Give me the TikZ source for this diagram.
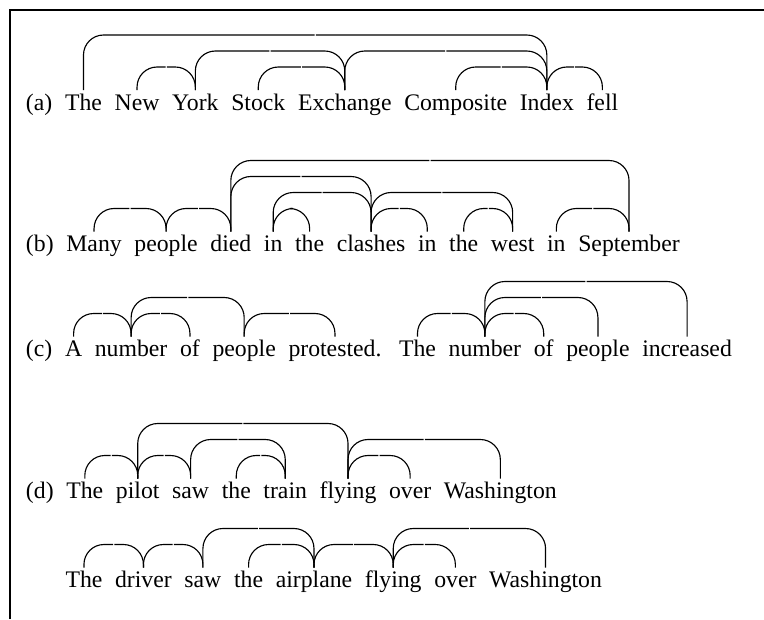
\documentclass[tikz,border=0pt]{standalone}
\usepackage{fontspec}
\setmainfont{Liberation Serif}
\usetikzlibrary{calc}
\tikzset{
  word/.style={inner sep=0pt, outer sep=0pt, anchor=base west, font=\fontsize{17.8pt}{20pt}\selectfont},
  deparcline/.style={line width=0.85pt, rounded corners=15pt},
  frameline/.style={line width=1.5pt},
}
\newcommand\wordgap{9.525pt}
\newcommand\deparc[3]{%
  \draw[deparcline] ([yshift=15pt]#1.base) -- ([yshift={20.25pt+#3*12pt}]#1.base)
     -- ([yshift={20.25pt+#3*12pt},xshift=-0.45pt]$(#1.base)!0.5!(#2.base)$);
  \draw[deparcline] ([yshift=15pt]#2.base) -- ([yshift={20.25pt+#3*12pt}]#2.base)
     -- ([yshift={20.25pt+#3*12pt},xshift=0.45pt]$(#1.base)!0.5!(#2.base)$);
}
\begin{document}
\begin{tikzpicture}[x=0.75pt,y=-0.75pt]
\useasboundingbox (0,0) rectangle (764,619);
% frame
\coordinate (fbl) at (10,619);
\coordinate (ftl) at (10,10);
\coordinate (ftr) at (764,10);
\draw[frameline] (fbl) -- (ftl) -- (ftr);

% (a)
\node[word] (a0) at (26,110) {(a)};
\node[word] (a1) at ([xshift=\wordgap]a0.base east) {The};
\node[word] (a2) at ([xshift=\wordgap]a1.base east) {New};
\node[word] (a3) at ([xshift=\wordgap]a2.base east) {York};
\node[word] (a4) at ([xshift=\wordgap]a3.base east) {Stock};
\node[word] (a5) at ([xshift=\wordgap]a4.base east) {Exchange};
\node[word] (a6) at ([xshift=\wordgap]a5.base east) {Composite};
\node[word] (a7) at ([xshift=\wordgap]a6.base east) {Index};
\node[word] (a8) at ([xshift=\wordgap]a7.base east) {fell};
\deparc{a1}{a7}{3}
\deparc{a3}{a5}{2}
\deparc{a5}{a7}{2}
\deparc{a2}{a3}{1}
\deparc{a4}{a5}{1}
\deparc{a6}{a7}{1}
\deparc{a7}{a8}{1}

% (b)
\node[word] (b0) at (26,251.5) {(b)};
\node[word] (b1) at ([xshift=\wordgap]b0.base east) {Many};
\node[word] (b2) at ([xshift=\wordgap]b1.base east) {people};
\node[word] (b3) at ([xshift=\wordgap]b2.base east) {died};
\node[word] (b4) at ([xshift=\wordgap]b3.base east) {in};
\node[word] (b5) at ([xshift=\wordgap]b4.base east) {the};
\node[word] (b6) at ([xshift=\wordgap]b5.base east) {clashes};
\node[word] (b7) at ([xshift=\wordgap]b6.base east) {in};
\node[word] (b8) at ([xshift=\wordgap]b7.base east) {the};
\node[word] (b9) at ([xshift=\wordgap]b8.base east) {west};
\node[word] (b10) at ([xshift=\wordgap]b9.base east) {in};
\node[word] (b11) at ([xshift=\wordgap]b10.base east) {September};
\deparc{b3}{b11}{4}
\deparc{b3}{b6}{3}
\deparc{b4}{b6}{2}
\deparc{b6}{b9}{2}
\deparc{b1}{b2}{1}
\deparc{b2}{b3}{1}
\deparc{b4}{b5}{1}
\deparc{b6}{b7}{1}
\deparc{b8}{b9}{1}
\deparc{b10}{b11}{1}

% (c)
\node[word] (c0) at (26,356.5) {(c)};
\node[word] (c1) at ([xshift=\wordgap]c0.base east) {A};
\node[word] (c2) at ([xshift=\wordgap]c1.base east) {number};
\node[word] (c3) at ([xshift=\wordgap]c2.base east) {of};
\node[word] (c4) at ([xshift=\wordgap]c3.base east) {people};
\node[word] (c5) at ([xshift=\wordgap]c4.base east) {protested.};
\node[word] (c6) at ([xshift=13.2pt]c5.base east) {The};
\node[word] (c7) at ([xshift=\wordgap]c6.base east) {number};
\node[word] (c8) at ([xshift=\wordgap]c7.base east) {of};
\node[word] (c9) at ([xshift=\wordgap]c8.base east) {people};
\node[word] (c10) at ([xshift=\wordgap]c9.base east) {increased};
\deparc{c1}{c2}{1}
\deparc{c2}{c3}{1}
\deparc{c2}{c4}{2}
\deparc{c4}{c5}{1}
\deparc{c6}{c7}{1}
\deparc{c7}{c8}{1}
\deparc{c7}{c9}{2}
\deparc{c7}{c10}{3}

% (d)
\node[word] (d0) at (26,498.5) {(d)};
\node[word] (d1) at ([xshift=\wordgap]d0.base east) {The};
\node[word] (d2) at ([xshift=\wordgap]d1.base east) {pilot};
\node[word] (d3) at ([xshift=\wordgap]d2.base east) {saw};
\node[word] (d4) at ([xshift=\wordgap]d3.base east) {the};
\node[word] (d5) at ([xshift=\wordgap]d4.base east) {train};
\node[word] (d6) at ([xshift=\wordgap]d5.base east) {flying};
\node[word] (d7) at ([xshift=\wordgap]d6.base east) {over};
\node[word] (d8) at ([xshift=\wordgap]d7.base east) {Washington};
\deparc{d1}{d2}{1}
\deparc{d2}{d3}{1}
\deparc{d2}{d6}{3}
\deparc{d3}{d5}{2}
\deparc{d4}{d5}{1}
\deparc{d6}{d8}{2}
\deparc{d6}{d7}{1}

% (d) second sentence
\node[word] (e1) at (65.5,587.5) {The};
\node[word] (e2) at ([xshift=\wordgap]e1.base east) {driver};
\node[word] (e3) at ([xshift=\wordgap]e2.base east) {saw};
\node[word] (e4) at ([xshift=\wordgap]e3.base east) {the};
\node[word] (e5) at ([xshift=\wordgap]e4.base east) {airplane};
\node[word] (e6) at ([xshift=\wordgap]e5.base east) {flying};
\node[word] (e7) at ([xshift=\wordgap]e6.base east) {over};
\node[word] (e8) at ([xshift=\wordgap]e7.base east) {Washington};
\deparc{e1}{e2}{1}
\deparc{e2}{e3}{1}
\deparc{e3}{e5}{2}
\deparc{e4}{e5}{1}
\deparc{e5}{e6}{1}
\deparc{e6}{e8}{2}
\deparc{e6}{e7}{1}
\end{tikzpicture}
\end{document}
